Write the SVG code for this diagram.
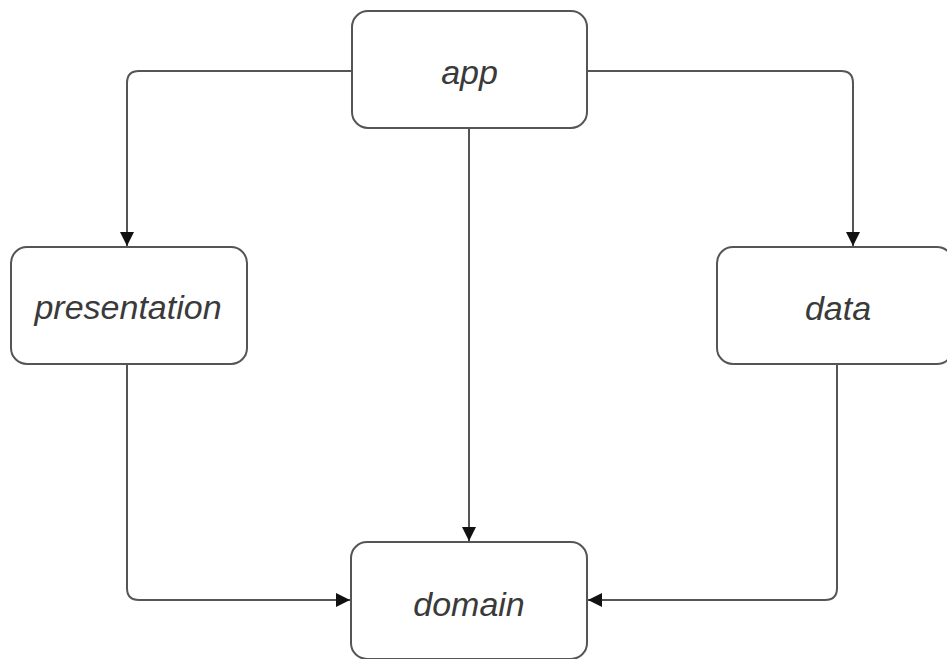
<svg xmlns="http://www.w3.org/2000/svg" width="947" height="659" viewBox="0 0 947 659">
  <defs>
    <style>
      .box { fill: #ffffff; stroke: #555555; stroke-width: 2; }
      .edge { fill: none; stroke: #555555; stroke-width: 2; }
      .label { font-family: "Liberation Sans", Arial, sans-serif; font-style: italic; font-size: 34px; fill: #3a3a3a; text-anchor: middle; dominant-baseline: central; }
    </style>
    <marker id="arrow" viewBox="0 0 14 14" refX="14" refY="7" markerWidth="14" markerHeight="14" markerUnits="userSpaceOnUse" orient="auto">
      <path d="M0,0 L14,7 L0,14 Z" fill="#111111"/>
    </marker>
  </defs>
  <rect width="947" height="659" fill="#ffffff"/>

  <g id="connectors">
    <path class="edge" marker-end="url(#arrow)" d="M352,71 H139 Q127,71 127,83 V246"/>
    <path class="edge" marker-end="url(#arrow)" d="M587,71 H841 Q853,71 853,83 V246"/>
    <path class="edge" marker-end="url(#arrow)" d="M469,128 V541"/>
    <path class="edge" marker-end="url(#arrow)" d="M127,364 V588 Q127,600 139,600 H350"/>
    <path class="edge" marker-end="url(#arrow)" d="M837,364 V588 Q837,600 825,600 H588"/>
  </g>

  <g id="app">
    <rect class="box" x="352" y="11" width="235" height="117" rx="16"/>
    <text class="label" x="469.5" y="72">app</text>
  </g>
  <g id="presentation">
    <rect class="box" x="11" y="247" width="236" height="117" rx="16"/>
    <text class="label" x="128" y="307">presentation</text>
  </g>
  <g id="data">
    <rect class="box" x="717" y="247" width="236" height="117" rx="16"/>
    <text class="label" x="838" y="308">data</text>
  </g>
  <g id="domain">
    <rect class="box" x="351" y="542" width="236" height="117" rx="16"/>
    <text class="label" x="469" y="604">domain</text>
  </g>
</svg>
